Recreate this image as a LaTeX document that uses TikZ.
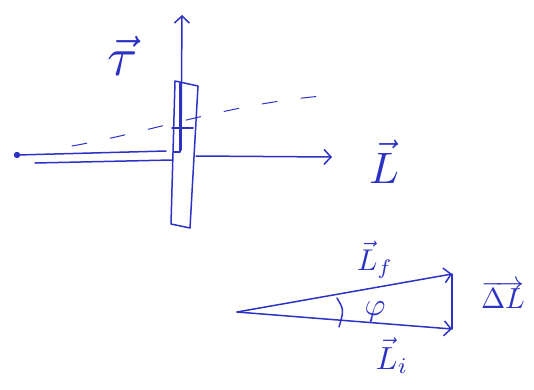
\documentclass[tikz,border=0pt]{standalone}
\usetikzlibrary{arrows.meta}
\definecolor{ink}{RGB}{45,50,195}
\begin{document}
\begin{tikzpicture}[x=1pt,y=-1pt,
  inkline/.style={draw=ink, line width=1.5pt, line cap=round, line join=round},
  vec/.style={inkline, -{Straight Barb[length=7pt,width=15pt,line width=1.5pt]}},
  lbl/.style={text=ink, inner sep=0pt, font=\normalsize, anchor=base}]
\useasboundingbox (0,0) rectangle (534,389);
% axle
\coordinate (O) at (17,155);
\coordinate (r1) at (166,151);
\coordinate (r2a) at (35,163);
\coordinate (r2b) at (172,160);
\fill[ink] (O) circle (3.2);
\draw[inkline] (O) -- (r1);
\draw[inkline] (r2a) -- (r2b);
% L vector
\coordinate (Ls) at (196,156);
\coordinate (Le) at (332,157);
\draw[vec] (Ls) -- (Le);
\node[lbl, scale=4.4] (Llab) at (384,183) {$\vec{L}$};
% torque axis
\coordinate (Ts) at (181,150);
\coordinate (Te) at (182,15);
\draw[vec] (Ts) -- (Te);
\node[lbl, scale=5.5] (taulab) at (123,75) {$\vec{\tau}$};
% wheel edge-on
\coordinate (w1) at (175,81);
\coordinate (w2) at (198,86);
\coordinate (w3) at (190,228);
\coordinate (w4) at (171,224);
\draw[inkline] (w1) -- (w2) -- (w3) -- (w4) -- cycle;
\coordinate (i1) at (180,83);
\coordinate (i2) at (180,152);
\coordinate (i3) at (174,152);
\draw[inkline] (i1) -- (i2) -- (i3);
\coordinate (h1) at (172,128);
\coordinate (h2) at (193,128);
\draw[inkline] (h1) -- (h2);
% dashed path
\coordinate (d1) at (72,146);
\coordinate (d2) at (322,96);
\draw[inkline, line width=1pt, dash pattern=on 15pt off 24pt] (d1) .. controls (150,132) and (230,104) .. (d2);
% vector triangle
\coordinate (A) at (237,312);
\coordinate (F) at (452,274);
\coordinate (I) at (452,329);
\draw[vec] (A) -- (F);
\draw[vec] (A) -- (I);
\draw[inkline] (I) -- (F);
\coordinate (a1) at (337,298);
\coordinate (a2) at (339,327);
\draw[inkline] (a1) .. controls (344,310) .. (a2);
\node[lbl, anchor=center, scale=3.2] (philab) at (375,312) {$\varphi$};
\node[lbl, scale=3.0] (Lflab) at (375,270) {$\vec{L}_f$};
\node[lbl, scale=3.2] (Lilab) at (392,369) {$\vec{L}_i$};
\node[lbl, scale=2.9] (dLlab) at (503,308) {$\overrightarrow{\Delta L}$};
\end{tikzpicture}
\end{document}
